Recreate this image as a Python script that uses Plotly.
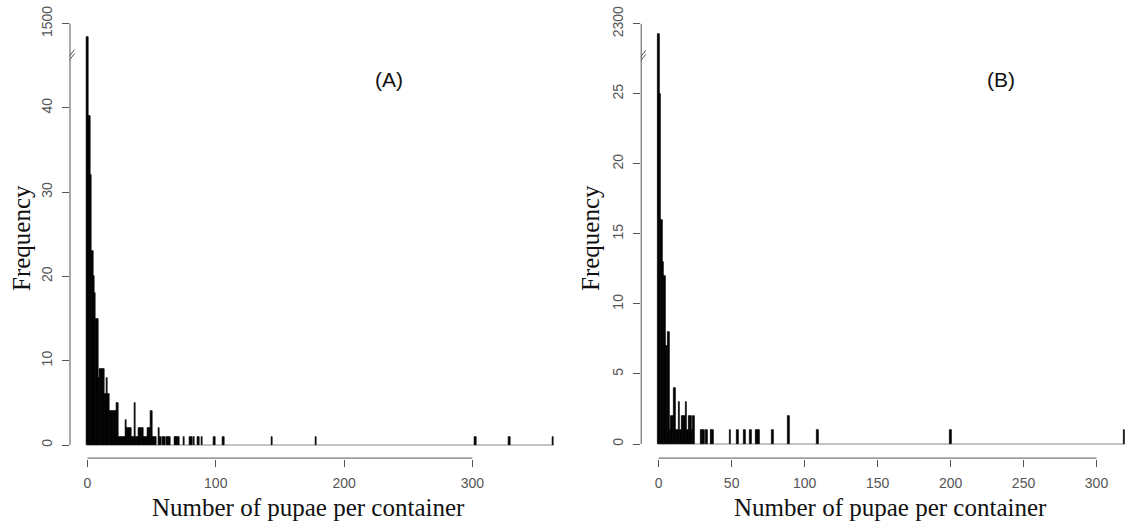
import plotly.graph_objects as go

# ---------------- data ----------------
# Panel A: number of pupae per container -> frequency (bin width 1)
a_pupae = [0, 1, 2, 3, 4, 5, 6, 7, 8, 9, 10, 11, 12, 13, 14, 15, 16, 17, 18, 19,
           20, 21, 22, 23, 24, 25, 26, 27, 28, 29, 30, 31, 32, 33, 34, 35, 36, 37,
           38, 39, 40, 41, 42, 43, 44, 45, 46, 47, 48, 49, 50, 51, 52, 53,
           56, 57, 59, 60, 62, 63, 64, 68, 69, 70, 71, 75, 80, 81, 83, 86, 87, 89,
           99, 106, 144, 178, 302, 303, 329, 363]
a_freq = [1460, 39, 39, 32, 23, 20, 18, 15, 15, 8, 9, 9, 9, 9, 6, 8, 6, 6, 4, 4,
          4, 4, 4, 5, 5, 1, 1, 1, 1, 1, 3, 2, 2, 2, 2, 1, 1, 5,
          1, 1, 2, 2, 2, 2, 1, 1, 1, 2, 2, 2, 4, 1, 1, 1,
          2, 1, 1, 1, 1, 1, 1, 1, 1, 1, 1, 1, 1, 1, 1, 1, 1, 1,
          1, 1, 1, 1, 1, 1, 1, 1]

# Panel B
b_pupae = [0, 1, 2, 3, 4, 5, 6, 7, 8, 9, 10, 11, 12, 13, 14, 15, 16, 17, 18, 19,
           20, 21, 22, 23, 24, 29, 30, 31, 33, 36, 37, 49, 54, 59, 63, 67, 68, 69,
           78, 89, 109, 200, 319]
b_freq = [2265, 25, 16, 13, 12, 7, 7, 8, 1, 2, 2, 4, 1, 1, 3, 1, 2, 2, 2, 3,
          1, 2, 2, 1, 2, 1, 1, 1, 1, 1, 1, 1, 1, 1, 1, 1, 1, 1,
          1, 2, 1, 1, 1]

a_yticks = [0, 10, 20, 30, 40, 50]
a_yticktext = ["0", "10", "20", "30", "40", "1500"]
b_yticks = [0, 5, 10, 15, 20, 25, 30]
b_yticktext = ["0", "5", "10", "15", "20", "25", "2300"]
a_xticks = [0, 100, 200, 300]
b_xticks = [0, 50, 100, 150, 200, 250, 300]

# broken-axis settings: (break value, top tick value, top display position, compression)
A_BREAK = dict(brk=40, top_val=1500, top_disp=50, scale=25, mark=45.9)
B_BREAK = dict(brk=25, top_val=2300, top_disp=30, scale=50, mark=27.5)


def to_display(vals, cfg):
    out = []
    for v in vals:
        if v <= cfg["brk"]:
            out.append(v)
        else:
            out.append(cfg["top_disp"] - (cfg["top_val"] - v) / cfg["scale"])
    return out


W, H = 1133, 523
A_X = [-14, 378]
B_X = [-12.3, 325]
A_Y = [-1.66, 51.96]
B_Y = [-1.07, 31.2]

fig = go.Figure()
fig.add_trace(go.Bar(x=a_pupae, y=to_display(a_freq, A_BREAK), customdata=a_freq,
                     width=1, marker=dict(color="black", line=dict(color="black", width=0.7)),
                     hovertemplate="%{x}: %{customdata}<extra></extra>",
                     xaxis="x", yaxis="y"))
fig.add_trace(go.Bar(x=b_pupae, y=to_display(b_freq, B_BREAK), customdata=b_freq,
                     width=1, marker=dict(color="black", line=dict(color="black", width=0.7)),
                     hovertemplate="%{x}: %{customdata}<extra></extra>",
                     xaxis="x2", yaxis="y2"))

px_bottom, px_top = 459, 7
ydom = [(H - px_bottom) / H, (H - px_top) / H]
axcol = "#555555"
tickfont = dict(family="Liberation Sans, Arial, sans-serif", size=14, color="#555555")

common_x = dict(showgrid=False, zeroline=False, showline=False, ticks="outside",
                ticklen=7, tickcolor=axcol, tickwidth=1, tickfont=tickfont,
                ticklabelstandoff=4)
common_y = dict(showgrid=False, zeroline=False, showline=False, ticks="outside",
                ticklen=7, tickcolor=axcol, tickwidth=1, tickfont=tickfont,
                tickangle=-90, ticklabelstandoff=4)

fig.update_layout(
    width=W, height=H, margin=dict(l=0, r=0, t=0, b=0),
    paper_bgcolor="white", plot_bgcolor="white", showlegend=False, bargap=0,
    xaxis=dict(domain=[69.5 / W, 69.5 / W + (A_X[1] - A_X[0]) * 1.283 / W], range=A_X,
               tickvals=a_xticks, anchor="y", **common_x),
    yaxis=dict(domain=ydom, range=A_Y, tickvals=a_yticks, ticktext=a_yticktext,
               anchor="x", **common_y),
    xaxis2=dict(domain=[640.7 / W, 1.0], range=B_X, tickvals=b_xticks, anchor="y2", **common_x),
    yaxis2=dict(domain=ydom, range=B_Y, tickvals=b_yticks, ticktext=b_yticktext,
                anchor="x2", **common_y),
)

shapes = []
for xr, yr, xrange_, yrange_, xmax_tick, ytop, data_max, cfg in [
    ("x", "y", A_X, A_Y, 300, 50, max(a_pupae), A_BREAK),
    ("x2", "y2", B_X, B_Y, 300, 30, max(b_pupae), B_BREAK),
]:
    # baseline of empty bins
    shapes.append(dict(type="line", xref=xr, yref=yr, x0=-0.5, x1=data_max + 0.5, y0=0, y1=0,
                       line=dict(color="#888888", width=1), layer="below"))
    # y axis line (from first to last tick)
    shapes.append(dict(type="line", xref=xr + " domain", yref=yr, x0=0.001, x1=0.001, y0=0, y1=ytop,
                       line=dict(color=axcol, width=1)))
    # x axis line (from first to last tick)
    shapes.append(dict(type="line", xref=xr, yref=yr + " domain", x0=0, x1=xmax_tick, y0=0.002, y1=0.002,
                       line=dict(color=axcol, width=1)))
    # axis break marks
    for off in (-2, 2):
        shapes.append(dict(type="line", xref=xr, yref=yr, xsizemode="pixel", ysizemode="pixel",
                           xanchor=xrange_[0], yanchor=cfg["mark"],
                           x0=-5, x1=5, y0=-6.5 + off, y1=6.5 + off,
                           line=dict(color=axcol, width=1)))
fig.update_layout(shapes=shapes)

serif = dict(family="Liberation Serif, Times New Roman, serif", size=25, color="#111111")
sans_lab = dict(family="Liberation Sans, Arial, sans-serif", size=21, color="#111111")
annotations = [
    dict(text="Number of pupae per container", x=308 / W, y=(H - 507) / H, xref="paper", yref="paper",
         showarrow=False, font=serif, xanchor="center", yanchor="middle"),
    dict(text="Number of pupae per container", x=890 / W, y=(H - 507) / H, xref="paper", yref="paper",
         showarrow=False, font=serif, xanchor="center", yanchor="middle"),
    dict(text="Frequency", x=22 / W, y=(H - 238) / H, xref="paper", yref="paper", textangle=-90,
         showarrow=False, font=serif, xanchor="center", yanchor="middle"),
    dict(text="Frequency", x=591 / W, y=(H - 238) / H, xref="paper", yref="paper", textangle=-90,
         showarrow=False, font=serif, xanchor="center", yanchor="middle"),
    dict(text="(A)", x=389 / W, y=(H - 80) / H, xref="paper", yref="paper",
         showarrow=False, font=sans_lab, xanchor="center", yanchor="middle"),
    dict(text="(B)", x=1001 / W, y=(H - 80) / H, xref="paper", yref="paper",
         showarrow=False, font=sans_lab, xanchor="center", yanchor="middle"),
]
fig.update_layout(annotations=annotations)

fig.write_html("out.html", config={"displayModeBar": False},
               post_script="document.body.style.margin='0';document.body.style.overflow='hidden';")
